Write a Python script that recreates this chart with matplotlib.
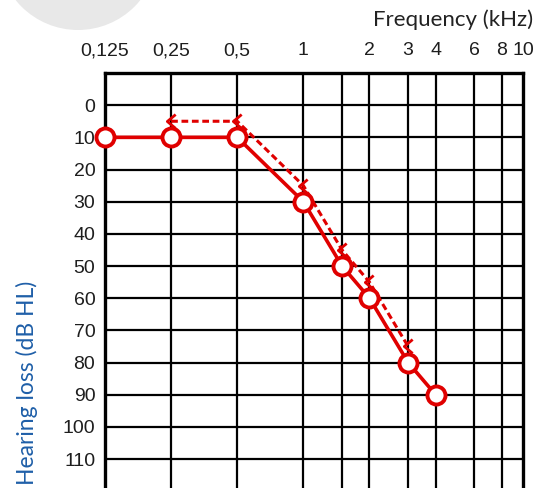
import numpy as np
import matplotlib
matplotlib.use("Agg")
import matplotlib.pyplot as plt
from matplotlib.patches import Circle
from matplotlib.path import Path
from matplotlib.transforms import IdentityTransform

# Air conduction (solid, circles)
air_freq = [0.125, 0.25, 0.5, 1, 1.5, 2, 3, 4]
air_db = [10, 10, 10, 30, 50, 60, 80, 90]

# Bone conduction (dashed, "<")
bone_freq = [0.25, 0.5, 1, 1.5, 2, 3]
bone_db = [5, 5, 25, 45, 55, 75]

# Grid / ticks
grid_freq = [0.25, 0.5, 1, 1.5, 2, 3, 4, 6, 8]
tick_freq = [0.125, 0.25, 0.5, 1, 2, 3, 4, 6, 8, 10]
tick_freq_labels = ["0,125", "0,25", "0,5", "1", "2", "3", "4", "6", "8", "10"]
tick_db = list(range(0, 120, 10))

W, H = 545, 488
fig = plt.figure(figsize=(W / 100, H / 100), dpi=100)

# light gray watermark shape top-left
fig.patches.append(Circle((78, H + 50), 80, transform=IdentityTransform(),
                          facecolor="#e8e8e8", edgecolor="none", zorder=0))

ax = fig.add_axes([105 / W, 0, 418 / W, 415 / H])
ax.set_xscale("log")
ax.set_xlim(0.125, 10)
ax.set_ylim(119, -10)

for f in grid_freq:
    ax.axvline(f, color="black", lw=1.6, zorder=1)
for d in tick_db:
    ax.axhline(d, color="black", lw=1.6, zorder=1)

ax.xaxis.tick_top()
ax.set_xticks(tick_freq)
ax.set_xticklabels(tick_freq_labels)
ax.xaxis.set_minor_locator(matplotlib.ticker.NullLocator())
ax.set_yticks(tick_db)
ax.tick_params(axis="both", length=0, labelsize=14, labelcolor="#1e1e1e")
ax.tick_params(axis="x", pad=10)
ax.tick_params(axis="y", pad=7)
for lbl in ax.get_xticklabels() + ax.get_yticklabels():
    lbl.set_family("Liberation Sans")

for side in ["top", "left", "right"]:
    ax.spines[side].set_linewidth(2.4)
ax.spines["bottom"].set_visible(False)

# "<" shaped marker
lt = Path([(0.6, 1.0), (-0.6, 0.0), (0.6, -1.0)],
          [Path.MOVETO, Path.LINETO, Path.LINETO])

ax.plot(bone_freq, bone_db, color="#e00000", lw=2.2, ls=(0, (2.2, 1.2)),
        marker=lt, ms=10, mew=2, mfc="none", mec="#e00000", zorder=3,
        clip_on=False)
ax.plot(air_freq, air_db, color="#e00000", lw=2.6, marker="o", ms=13,
        mew=2.8, mfc="white", mec="#e00000", zorder=4, clip_on=False)

fig.text(533 / W, 1 - 20 / H, "Frequency (kHz)", ha="right", va="center",
         fontsize=16, family="Lato", color="#222222")
fig.text(27 / W, 1 - 383 / H, "Hearing loss (dB HL)", ha="center",
         va="center", rotation=90, fontsize=16.5, family="Lato",
         color="#1f5fa8")

fig.savefig("out.png", dpi=100)
